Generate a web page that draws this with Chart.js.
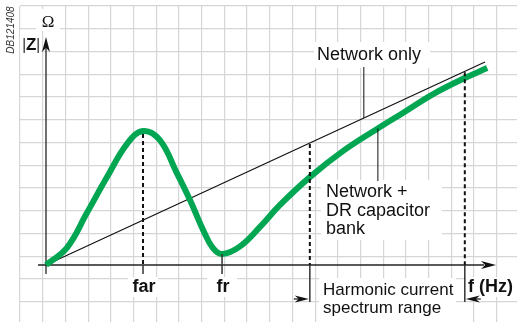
<!DOCTYPE html>
<html><head><meta charset="utf-8">
<script src="https://cdn.jsdelivr.net/npm/chart.js@4"></script>
<style>html,body{margin:0;padding:0;background:#fff;overflow:hidden}</style>
</head><body>
<canvas id="c" width="517" height="322"></canvas>
<script>
// ---- data ----
const freq = [0, 4.8, 9.3, 13.9, 18.5, 22.1, 25.9, 29.8, 32.8, 35.8, 38.0, 40.1, 44.2, 48.8, 53.3, 60.1, 67.7, 75.4, 81.3, 88.2, 95.4, 100.5];
const impedanceWithBank = [0, 8.6, 25.6, 43.3, 59.8, 66.0, 61.6, 45.3, 32.0, 17.2, 8.4, 5.4, 9.2, 18.9, 29.6, 43.3, 56.2, 67.0, 74.9, 84.2, 92.1, 97.0];
const networkFreq = [0, 100];
const networkImpedance = [0, 100];
const markerLabels = ['far', 'fr'];
const markerFreqs = [22.1, 40.1];
const harmonicRange = [60.1, 95.4];
const gridCols = 22;
const gridRows = 14;

const FONT = "'Liberation Sans', Arial, sans-serif";
const GREEN = '#00a651';

function arrowHead(ctx, tx, ty, ang, len, hw) {
  ctx.save();
  ctx.translate(tx, ty);
  ctx.rotate(ang);
  ctx.beginPath();
  ctx.moveTo(0, 0);
  ctx.lineTo(-len, -hw);
  ctx.lineTo(-len * 0.72, 0);
  ctx.lineTo(-len, hw);
  ctx.closePath();
  ctx.fill();
  ctx.restore();
}
function seg(ctx, x1, y1, x2, y2) {
  ctx.beginPath(); ctx.moveTo(x1, y1); ctx.lineTo(x2, y2); ctx.stroke();
}
function box(ctx, x1, y1, x2, y2) {
  ctx.fillStyle = '#fff';
  ctx.fillRect(x1, y1, x2 - x1, y2 - y1);
}
function netAt(f) {
  return networkImpedance[0] + (networkImpedance[1] - networkImpedance[0]) * (f - networkFreq[0]) / (networkFreq[1] - networkFreq[0]);
}
function bankAt(f) {
  for (let i = 1; i < freq.length; i++) {
    if (f <= freq[i]) {
      const t = (f - freq[i - 1]) / (freq[i] - freq[i - 1]);
      return impedanceWithBank[i - 1] + t * (impedanceWithBank[i] - impedanceWithBank[i - 1]);
    }
  }
  return impedanceWithBank[impedanceWithBank.length - 1];
}

const deco = {
  id: 'deco',
  beforeDatasetsDraw(chart) {
    const { ctx, scales: { x, y } } = chart;
    const x0 = x.getPixelForValue(0), y0 = y.getPixelForValue(0);
    ctx.save();
    box(ctx, 36, 9, 60, 31);
    box(ctx, 20, 31, 41, 54);
    box(ctx, 314, 42, 430, 68);
    box(ctx, 321, 180, 442, 240);
    box(ctx, 319, 278, 456, 322);
    box(ctx, 466, 277, 517, 297);
    markerFreqs.forEach(f => { const px = x.getPixelForValue(f); box(ctx, px - 15, 277, px + 15, 297); });

    ctx.strokeStyle = '#222'; ctx.fillStyle = '#111'; ctx.lineWidth = 1.3;
    seg(ctx, x0, y0 + 9, x0, 48);
    arrowHead(ctx, x0, 37, -Math.PI / 2, 15, 4);
    seg(ctx, x0 - 8, y0, 484, y0);
    arrowHead(ctx, 496, y0, 0, 15, 4);
    ctx.restore();
  },
  afterDatasetsDraw(chart) {
    const { ctx, scales: { x, y } } = chart;
    const y0 = y.getPixelForValue(0);
    ctx.save();
    ctx.strokeStyle = '#111'; ctx.fillStyle = '#111';

    const pFar = x.getPixelForValue(markerFreqs[0]);
    ctx.lineWidth = 2; ctx.setLineDash([4, 3]);
    seg(ctx, pFar, y.getPixelForValue(bankAt(markerFreqs[0])) + 3, pFar, y0);
    ctx.setLineDash([]); ctx.lineWidth = 1.5; ctx.strokeStyle = '#333';
    seg(ctx, pFar, y0, pFar, y0 + 9);
    const pFr = x.getPixelForValue(markerFreqs[1]);
    seg(ctx, pFr, y.getPixelForValue(bankAt(markerFreqs[1])), pFr, y0 + 9);

    harmonicRange.forEach(f => {
      const px = x.getPixelForValue(f);
      ctx.strokeStyle = '#111'; ctx.lineWidth = 2; ctx.setLineDash([4, 3]);
      seg(ctx, px, y.getPixelForValue(netAt(f)) + 1, px, y0);
      ctx.setLineDash([]); ctx.lineWidth = 1.5; ctx.strokeStyle = '#333';
      seg(ctx, px, y0, px, 302);
    });
    const pA = x.getPixelForValue(harmonicRange[0]), pB = x.getPixelForValue(harmonicRange[1]);
    ctx.lineWidth = 1.2; ctx.strokeStyle = '#111';
    seg(ctx, pA - 16, 299, pA - 6, 299);
    arrowHead(ctx, pA - 1, 299, 0, 14, 3.5);
    seg(ctx, pB + 6, 299, pB + 16, 299);
    arrowHead(ctx, pB + 1, 299, Math.PI, 14, 3.5);

    ctx.lineWidth = 1; ctx.strokeStyle = '#111';
    const fNet = 72.4, pNet = x.getPixelForValue(fNet);
    seg(ctx, pNet, 67, pNet, y.getPixelForValue(netAt(fNet)));
    const fBank = 75.6, pBank = x.getPixelForValue(fBank);
    seg(ctx, pBank, y.getPixelForValue(bankAt(fBank)), pBank, 181);

    ctx.fillStyle = '#111';
    ctx.textBaseline = 'alphabetic';
    ctx.textAlign = 'left';
    ctx.font = '18px ' + FONT;
    ctx.fillText('Network only', 317, 60);
    ctx.fillText('Network +', 326, 197);
    ctx.fillText('DR capacitor', 326, 216);
    ctx.fillText('bank', 326, 234);
    ctx.font = '17px ' + FONT;
    ctx.fillText('Harmonic current', 323, 295);
    ctx.fillText('spectrum range', 323, 313);
    ctx.font = 'bold 18px ' + FONT;
    ctx.fillText('f (Hz)', 468, 292);
    ctx.textAlign = 'center';
    markerLabels.forEach((l, i) => ctx.fillText(l, x.getPixelForValue(markerFreqs[i]) + 1, 292));
    ctx.font = "17px 'Liberation Serif', 'Times New Roman', serif";
    ctx.fillText('Ω', 48, 27);
    ctx.textAlign = 'left';
    ctx.font = '17px ' + FONT;
    ctx.fillStyle = '#444';
    ctx.fillText('|', 22, 50);
    ctx.fillText('|', 36, 50);
    ctx.fillStyle = '#111';
    ctx.font = 'bold 17px ' + FONT;
    ctx.fillText('Z', 26, 50);
    ctx.save();
    ctx.translate(14, 30);
    ctx.rotate(-Math.PI / 2);
    ctx.textAlign = 'center';
    ctx.fillStyle = '#333';
    ctx.font = 'italic 10px ' + FONT;
    ctx.fillText('DB121408', 0, 0);
    ctx.restore();
    ctx.restore();
  }
};

new Chart(document.getElementById('c'), {
  type: 'line',
  data: {
    datasets: [
      {
        label: 'Network + DR capacitor bank',
        data: freq.map((f, i) => ({ x: f, y: impedanceWithBank[i] })),
        borderColor: GREEN, borderWidth: 6, pointRadius: 0,
        tension: 0.4, borderCapStyle: 'butt', borderJoinStyle: 'round',
        xAxisID: 'x', yAxisID: 'y'
      },
      {
        label: 'Network only',
        data: networkFreq.map((f, i) => ({ x: f, y: networkImpedance[i] })),
        borderColor: '#111', borderWidth: 1.2, pointRadius: 0, tension: 0,
        xAxisID: 'x', yAxisID: 'y'
      }
    ]
  },
  options: {
    responsive: false, animation: false, devicePixelRatio: 1, events: [],
    layout: { padding: { left: 20, top: 6, right: 0, bottom: 0 } },
    plugins: { legend: { display: false }, tooltip: { enabled: false } },
    scales: {
      x: { type: 'linear', min: -5.923, max: 107.29, display: false },
      y: { type: 'linear', min: -28.08, max: 127.59, display: false },
      gx: {
        type: 'linear', position: 'bottom', min: 0, max: 21.89,
        grid: { color: '#d6d6d6', lineWidth: 1.2, drawTicks: false },
        border: { display: false }, ticks: { display: false },
        afterBuildTicks: s => { s.ticks = Array.from({ length: gridCols }, (_, i) => ({ value: i })); },
        afterFit: s => { s.height = 0; }
      },
      gy: {
        type: 'linear', position: 'left', reverse: true, min: 0, max: 13.89,
        grid: { color: '#d6d6d6', lineWidth: 1.2, drawTicks: false },
        border: { display: false }, ticks: { display: false },
        afterBuildTicks: s => { s.ticks = Array.from({ length: gridRows }, (_, i) => ({ value: i })); },
        afterFit: s => { s.width = 0; }
      }
    }
  },
  plugins: [deco]
});
</script>
</body></html>
